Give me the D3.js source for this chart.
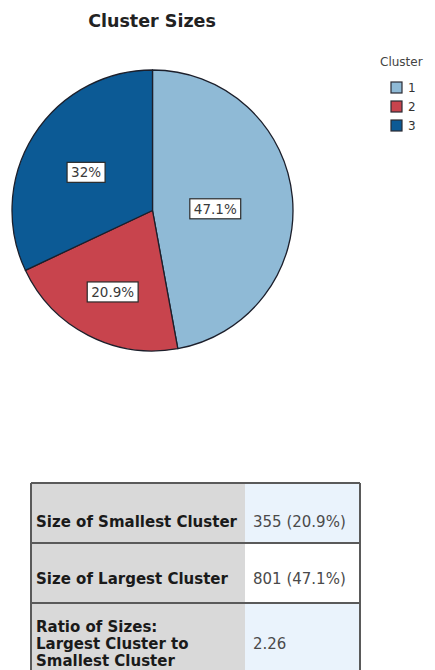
<!DOCTYPE html>
<html>
<head>
<meta charset="utf-8">
<script src="https://cdn.jsdelivr.net/npm/d3@7"></script>
<style>
  html, body { margin: 0; padding: 0; background: #ffffff; }
  svg { display: block; }
</style>
</head>
<body>
<svg id="chart" width="435" height="670"></svg>
<script>
// Cluster membership counts
const clusters = ["1", "2", "3"];
const sizes = [801, 355, 544];
const clusterColors = ["#8fbad6", "#c8444d", "#0c5a95"];

// Summary table row labels (one array of lines per row)
const summaryLabels = [
  ["Size of Smallest Cluster"],
  ["Size of Largest Cluster"],
  ["Ratio of Sizes:", "Largest Cluster to", "Smallest Cluster"]
];

const svg = d3.select("#chart");
const total = d3.sum(sizes);
const pctFmt = d3.format(".3~r");
const pct = v => pctFmt(v / total * 100) + "%";

// ---- Title ----
svg.append("text")
  .attr("x", 152).attr("y", 27)
  .attr("text-anchor", "middle")
  .style("font-family", "DejaVu Sans, sans-serif")
  .style("font-weight", "bold")
  .style("font-size", "17.5px")
  .style("fill", "#222")
  .text("Cluster Sizes");

// ---- Pie ----
const cx = 152.5, cy = 210.5, r = 140.5;
const color = d3.scaleOrdinal().domain(clusters).range(clusterColors);
const data = clusters.map((c, i) => ({ cluster: c, size: sizes[i] }));

const pie = d3.pie().value(d => d.size).sort(null).startAngle(0).endAngle(2 * Math.PI);
const arcs = pie(data);
const arc = d3.arc().innerRadius(0).outerRadius(r);

const g = svg.append("g").attr("transform", `translate(${cx},${cy})`);

g.selectAll("path.slice")
  .data(arcs)
  .join("path")
  .attr("class", "slice")
  .attr("d", arc)
  .attr("fill", d => color(d.data.cluster))
  .attr("stroke", "#1c1f2b")
  .attr("stroke-width", 1.3)
  .attr("stroke-linejoin", "round");

// Labels sit just below each sector's area centroid
const labelPos = d => {
  const a = d.endAngle - d.startAngle;
  const dist = 4 * r * Math.sin(a / 2) / (3 * a);
  const mid = (d.startAngle + d.endAngle) / 2;
  return [dist * Math.sin(mid), -dist * Math.cos(mid) + 4];
};

const labels = g.selectAll("g.lbl")
  .data(arcs)
  .join("g")
  .attr("class", "lbl")
  .attr("transform", d => `translate(${labelPos(d)})`);

labels.each(function(d) {
  const lg = d3.select(this);
  const rect = lg.append("rect");
  const t = lg.append("text")
    .attr("text-anchor", "middle")
    .attr("y", 5)
    .style("font-family", "DejaVu Sans, sans-serif")
    .style("font-size", "13.5px")
    .style("fill", "#3a3a3a")
    .text(pct(d.data.size));
  const w = t.node().getComputedTextLength() + 8;
  rect.attr("x", -w / 2).attr("y", -10).attr("width", w).attr("height", 20)
    .attr("fill", "#ffffff")
    .attr("stroke", "#2a2a2a")
    .attr("stroke-width", 1.2);
});

// ---- Legend ----
const legend = svg.append("g");
legend.append("text")
  .attr("x", 380).attr("y", 66)
  .style("font-family", "DejaVu Sans, sans-serif")
  .style("font-size", "12px")
  .style("fill", "#444")
  .text("Cluster");

const items = legend.selectAll("g.item")
  .data(clusters)
  .join("g")
  .attr("class", "item")
  .attr("transform", (d, i) => `translate(391,${82 + i * 19})`);

items.append("rect")
  .attr("width", 11).attr("height", 11)
  .attr("fill", d => color(d))
  .attr("stroke", "#2b2b33")
  .attr("stroke-width", 1.2);

items.append("text")
  .attr("x", 17).attr("y", 10)
  .style("font-family", "DejaVu Sans, sans-serif")
  .style("font-size", "12px")
  .style("fill", "#333")
  .text(d => d);

// ---- Summary table ----
const smallest = d3.min(sizes), largest = d3.max(sizes);
const summaryValues = [
  `${smallest} (${pct(smallest)})`,
  `${largest} (${pct(largest)})`,
  pctFmt(largest / smallest)
];

const tX = 31, tRight = 360, colX = 245, tTop = 483;
const rowTops = [483, 543, 603];
const rowBottoms = [543, 603, 700];
const valueFills = ["#eaf3fc", "#ffffff", "#eaf3fc"];

const tbl = svg.append("g");

summaryLabels.forEach((lines, i) => {
  tbl.append("rect")
    .attr("x", tX).attr("y", rowTops[i])
    .attr("width", colX - tX).attr("height", rowBottoms[i] - rowTops[i])
    .attr("fill", "#d9d9d9");
  tbl.append("rect")
    .attr("x", colX).attr("y", rowTops[i])
    .attr("width", tRight - colX).attr("height", rowBottoms[i] - rowTops[i])
    .attr("fill", valueFills[i]);
});

// Row text: label lines centred on the row's text centre
const rowCenters = [521, 578, 643];
const lineH = 17;
summaryLabels.forEach((lines, i) => {
  const first = rowCenters[i] - (lines.length - 1) * lineH / 2;
  lines.forEach((ln, j) => {
    tbl.append("text")
      .attr("x", 36).attr("y", first + j * lineH + 5.5)
      .style("font-family", "DejaVu Sans, sans-serif")
      .style("font-weight", "bold")
      .style("font-size", "15px")
      .style("fill", "#1a1a1a")
      .text(ln);
  });
  tbl.append("text")
    .attr("x", 253).attr("y", rowCenters[i] + 5.5)
    .style("font-family", "DejaVu Sans, sans-serif")
    .style("font-size", "15px")
    .style("fill", "#4a4a4a")
    .text(summaryValues[i]);
});

// Grid lines
const lineStyle = sel => sel.attr("stroke", "#5a5a5a").attr("stroke-width", 2).attr("fill", "none");
tbl.append("line").attr("x1", tX).attr("x2", tRight).attr("y1", tTop).attr("y2", tTop).call(lineStyle);
[543, 603].forEach(y => {
  tbl.append("line").attr("x1", tX).attr("x2", tRight).attr("y1", y).attr("y2", y).call(lineStyle);
});
tbl.append("line").attr("x1", tX).attr("x2", tX).attr("y1", tTop).attr("y2", 700).call(lineStyle);
tbl.append("line").attr("x1", tRight).attr("x2", tRight).attr("y1", tTop).attr("y2", 700).call(lineStyle);
</script>
</body>
</html>
